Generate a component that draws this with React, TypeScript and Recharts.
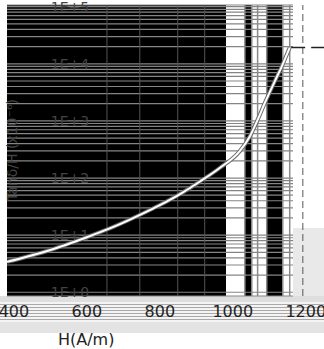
import React from 'react';
import { LineChart, Line, XAxis, YAxis, CartesianGrid, ReferenceLine } from 'recharts';

const fieldH = [381, 500, 600, 671, 750, 800, 860, 910, 964, 1019, 1047, 1068, 1088, 1115, 1135, 1156];
const tanDeltaOverH = [3.4, 5.5, 9.2, 13.8, 23.4, 33.6, 54.6, 87, 150, 295, 540, 1040, 2080, 4930, 9230, 19200];

const xTicks = [400, 600, 800, 1000, 1200];
const decades = [1, 10, 100, 1000, 10000, 100000];
const decadeLabels = ['1E+0', '1E+1', '1E+2', '1E+3', '1E+4', '1E+5'];
const minorSteps = [1, 2, 3, 4, 5, 6, 7, 8, 9];

// extra vertical rules and the dashed marker lines
const faintRulesH = [655, 745, 849, 923];
const columnRulesH = [1033, 1052, 1068, 1093, 1137, 1156];
const markerH = 1192;
const plateauStartH = 1160;
const plateauValue = 19200;

const data = fieldH.map((h, i) => ({ h, v: tanDeltaOverH[i] }));
const gridTicks = decades.flatMap((d) => minorSteps.map((m) => m * d)).filter((t) => t <= 100000);

const FONT = '"DejaVu Sans", sans-serif';

const decadeLabel = (text: string) => (props: any) => {
  const vb = props.viewBox || {};
  return (
    <text x={70} y={(vb.y || 0) + 5} textAnchor="middle" fill="#444" fontSize={14} fontFamily={FONT}>
      {text}
    </text>
  );
};

const NoTick = () => <g />;

const AxisTitle = () => (
  <text transform="translate(17,150) rotate(-90)" textAnchor="middle" fill="#444" fontSize={14} fontFamily={FONT}>
    Tanδ/H (x10⁻⁶)
  </text>
);

export default function App() {
  return (
    <div style={{ position: 'fixed', left: 0, top: 0, width: 324, height: 349, background: '#fff', overflow: 'hidden' }}>
      <div
        style={{
          position: 'absolute', left: 7, top: 5, width: 286, height: 291,
          background:
            'linear-gradient(to right, #000 0 219px, #fff 219px 238px, #000 238px 245px, #fff 245px 260px, #000 260px 275px, #fff 275px 286px)',
        }}
      />
      <div style={{ position: 'absolute', left: 293, top: 228, width: 31, height: 68, background: '#e9e9e9' }} />
      <div style={{ position: 'absolute', left: 0, top: 296, width: 324, height: 6, background: '#dedede' }} />
      <div
        style={{
          position: 'absolute', left: 0, top: 302, width: 324, height: 20,
          background: 'repeating-linear-gradient(to bottom, #f4f4f4 0 2px, #a8a8a8 2px 3px)',
        }}
      />
      <div style={{ position: 'absolute', left: 0, top: 322, width: 324, height: 11, background: '#e3e3e3' }} />
      <div style={{ position: 'absolute', left: 0, top: 0 }}>
        <LineChart width={324} height={349} data={data} margin={{ top: 5, right: 0, bottom: 27, left: 7 }}>
          <CartesianGrid vertical={false} stroke="#858585" strokeWidth={1.2} width={286} />
          <XAxis
            dataKey="h"
            type="number"
            domain={[381, 1250]}
            ticks={xTicks}
            allowDataOverflow
            height={26}
            tickLine={false}
            axisLine={false}
            tickMargin={4}
            interval={0}
            tick={{ fill: '#222', fontSize: 16, fontFamily: FONT }}
          />
          <YAxis
            scale="log"
            domain={[0.86, 107000]}
            ticks={gridTicks}
            allowDataOverflow
            width={0}
            interval={0}
            tickLine={false}
            axisLine={false}
            tick={<NoTick />}
          />
          {faintRulesH.map((h) => (
            <ReferenceLine key={'f' + h} x={h} stroke="#555" strokeWidth={1} />
          ))}
          {columnRulesH.map((h) => (
            <ReferenceLine key={'c' + h} x={h} stroke="#8a8a8a" strokeWidth={1.5} />
          ))}
          {decades.map((d, i) => (
            <ReferenceLine key={'d' + d} y={d} stroke="none" label={{ content: decadeLabel(decadeLabels[i]) }} />
          ))}
          <ReferenceLine x={markerH} stroke="#555" strokeDasharray="7 4" />
          <ReferenceLine
            segment={[{ x: plateauStartH, y: plateauValue }, { x: 1250, y: plateauValue }]}
            stroke="#222"
            strokeWidth={1.5}
            strokeDasharray="14 6"
          />
          <Line type="monotone" dataKey="v" stroke="#6a6a6a" strokeWidth={4} dot={false} isAnimationActive={false} />
          <Line type="monotone" dataKey="v" stroke="#ffffff" strokeWidth={2} dot={false} isAnimationActive={false} />
        </LineChart>
      </div>
      <svg width={324} height={349} style={{ position: 'absolute', left: 0, top: 0, pointerEvents: 'none' }}>
        <AxisTitle />
      </svg>
      <div style={{ position: 'absolute', left: 58, top: 330, fontSize: 16, fontFamily: FONT, color: '#222' }}>H(A/m)</div>
    </div>
  );
}
